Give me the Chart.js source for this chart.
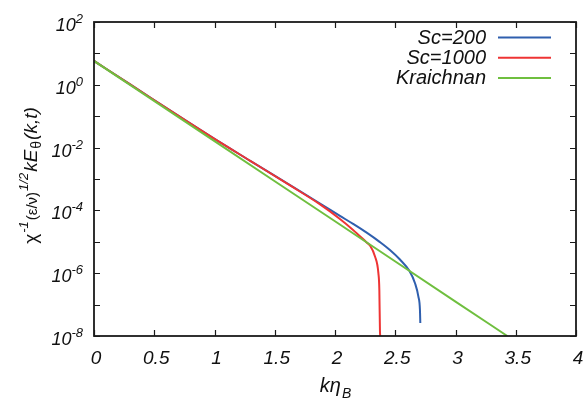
<!DOCTYPE html>
<html>
<head>
<meta charset="utf-8">
<script src="https://cdn.jsdelivr.net/npm/chart.js@4.4.1/dist/chart.umd.min.js"></script>
<style>
html,body{margin:0;padding:0;background:#fff;}
#c{display:block;}
</style>
</head>
<body>
<canvas id="c" width="584" height="401"></canvas>
<script>
// ---- data ----
const seriesNames = ['Sc=200', 'Sc=1000', 'Kraichnan'];
const sc200X = [0, 0.3, 0.714, 1.0, 1.3, 1.627, 1.876, 2.041, 2.15, 2.263, 2.373, 2.456, 2.539, 2.617, 2.664, 2.692, 2.705, 2.708];
const sc200Y = [5.75, 1.03, 9.46e-2, 1.89e-2, 3.72e-3, 6.38e-4, 1.66e-4, 6.71e-5, 3.71e-5, 1.95e-5, 9.75e-6, 5.46e-6, 2.72e-6, 1.19e-6, 4.8e-7, 1.8e-7, 6.8e-8, 2.6e-8];
const sc1000X = [0, 0.3, 0.714, 1.0, 1.3, 1.627, 1.876, 2.041, 2.15, 2.263, 2.29, 2.332, 2.36, 2.368, 2.373, 2.375];
const sc1000Y = [5.75, 1.03, 9.46e-2, 1.89e-2, 3.72e-3, 6.24e-4, 1.55e-4, 5.33e-5, 2.39e-5, 9.5e-6, 7.6e-6, 3.4e-6, 1.0e-6, 2.9e-7, 1.5e-8, 1.0e-8];
const kraichnanX = [0, 1.0, 2.0, 3.0, 3.43];
const kraichnanY = [5.75, 1.6e-2, 4.5e-5, 1.25e-7, 1.0e-8];
const xTickValues = [0, 0.5, 1, 1.5, 2, 2.5, 3, 3.5, 4];
const xTickLabels = ['0', '0.5', '1', '1.5', '2', '2.5', '3', '3.5', '4'];
const yTickValues = [1e-8, 1e-7, 1e-6, 1e-5, 1e-4, 1e-3, 1e-2, 1e-1, 1, 10, 100];
const yLabelValues = [1e-8, 1e-6, 1e-4, 1e-2, 1, 100];
const yLabelExps = ['-8', '-6', '-4', '-2', '0', '2'];
const colors = ['#2f5fae', '#ee3434', '#6fbf3f'];

function pts(xs, ys){ return xs.map((x,i)=>({x:x, y:ys[i]})); }

const FONT = '"Liberation Sans", Arial, sans-serif';

const decor = {
  id: 'decor',
  afterDraw(chart){
    const ctx = chart.ctx;
    const a = chart.chartArea;
    const xs = chart.scales.x, ys = chart.scales.y;
    ctx.save();
    // frame
    ctx.strokeStyle = '#1a1a1a';
    ctx.lineWidth = 1.8;
    ctx.strokeRect(a.left, a.top, a.right - a.left, a.bottom - a.top);
    // ticks (inward, mirrored)
    ctx.lineWidth = 1.2;
    ctx.beginPath();
    const tl = 6;
    xTickValues.forEach(v => {
      const p = Math.round(xs.getPixelForValue(v)) + 0.5;
      ctx.moveTo(p, a.bottom); ctx.lineTo(p, a.bottom - tl);
      ctx.moveTo(p, a.top); ctx.lineTo(p, a.top + tl);
    });
    yTickValues.forEach(v => {
      const p = Math.round(ys.getPixelForValue(v)) + 0.5;
      ctx.moveTo(a.left, p); ctx.lineTo(a.left + tl, p);
      ctx.moveTo(a.right, p); ctx.lineTo(a.right - tl, p);
    });
    ctx.stroke();

    ctx.fillStyle = '#111';
    // x tick labels
    ctx.font = 'italic 19px ' + FONT;
    ctx.textAlign = 'center';
    ctx.textBaseline = 'alphabetic';
    xTickValues.forEach((v, i) => {
      ctx.fillText(xTickLabels[i], xs.getPixelForValue(v) + 2, a.bottom + 28);
    });
    // y tick labels 10^n
    yLabelValues.forEach((v, i) => {
      const p = ys.getPixelForValue(v);
      ctx.font = 'italic 13px ' + FONT;
      const ew = ctx.measureText(yLabelExps[i]).width;
      ctx.font = 'italic 18px ' + FONT;
      const bw = ctx.measureText('10').width;
      const right = a.left - 11;
      ctx.textAlign = 'left';
      ctx.fillText('10', right - ew - bw, p + 9);
      ctx.font = 'italic 13px ' + FONT;
      ctx.fillText(yLabelExps[i], right - ew, p + 1);
    });
    // x title: k eta_B
    ctx.textAlign = 'left';
    ctx.font = 'italic 20px ' + FONT;
    const w1 = ctx.measureText('k\u03B7').width;
    ctx.font = 'italic 14px ' + FONT;
    const w2 = ctx.measureText('B').width;
    const cx = (a.left + a.right) / 2;
    const sx = cx - (w1 + w2) / 2;
    ctx.font = 'italic 20px ' + FONT;
    ctx.fillText('k\u03B7', sx, 392);
    ctx.font = 'italic 14px ' + FONT;
    ctx.fillText('B', sx + w1 + 1, 398);

    // y title (rotated)
    const parts = [
      {t:'\u03C7', f:'19px', dy:0},
      {t:'-1', f:'italic 13px', dy:-9},
      {t:'(\u03B5/\u03BD)', f:'15px', dy:0},
      {t:'1/2', f:'italic 13px', dy:-9},
      {t:'kE', f:'italic 19px', dy:0},
      {t:'\u03B8', f:'14px', dy:4},
      {t:'(k,t)', f:'italic 19px', dy:0}
    ];
    let total = 0;
    parts.forEach(pp => { ctx.font = pp.f + ' ' + FONT; pp.w = ctx.measureText(pp.t).width + 1; total += pp.w; });
    ctx.save();
    ctx.translate(37, 175);
    ctx.rotate(-Math.PI / 2);
    let px = -total / 2;
    parts.forEach(pp => { ctx.font = pp.f + ' ' + FONT; ctx.fillText(pp.t, px, pp.dy); px += pp.w; });
    ctx.restore();

    // legend
    ctx.font = 'italic 20px ' + FONT;
    ctx.textAlign = 'right';
    ctx.textBaseline = 'middle';
    chart.data.datasets.forEach((ds, i) => {
      const y = 37.5 + i * 20.2;
      ctx.fillStyle = '#111';
      ctx.fillText(ds.label, 486, y + 1);
      ctx.strokeStyle = ds.borderColor;
      ctx.lineWidth = 2;
      ctx.beginPath();
      ctx.moveTo(498, y); ctx.lineTo(551, y);
      ctx.stroke();
    });
    ctx.restore();
  }
};

new Chart(document.getElementById('c'), {
  type: 'line',
  data: {
    datasets: [
      {label: seriesNames[0], data: pts(sc200X, sc200Y), borderColor: colors[0], order: 3},
      {label: seriesNames[1], data: pts(sc1000X, sc1000Y), borderColor: colors[1], order: 2},
      {label: seriesNames[2], data: pts(kraichnanX, kraichnanY), borderColor: colors[2], order: 1}
    ].map(d => Object.assign(d, {borderWidth: 2, pointRadius: 0, fill: false, cubicInterpolationMode: 'monotone'}))
  },
  options: {
    responsive: false,
    animation: false,
    devicePixelRatio: 1,
    layout: {padding: {top: 22, right: 8, left: 0, bottom: 0}},
    plugins: {legend: {display: false}, tooltip: {enabled: false}},
    scales: {
      x: {
        type: 'linear', min: 0, max: 4,
        grid: {display: false}, border: {display: false},
        ticks: {display: false},
        afterFit(s){ s.height = 65; }
      },
      y: {
        type: 'logarithmic', min: 1e-8, max: 100,
        grid: {display: false}, border: {display: false},
        ticks: {display: false},
        afterFit(s){ s.width = 94; }
      }
    }
  },
  plugins: [decor]
});
</script>
</body>
</html>
